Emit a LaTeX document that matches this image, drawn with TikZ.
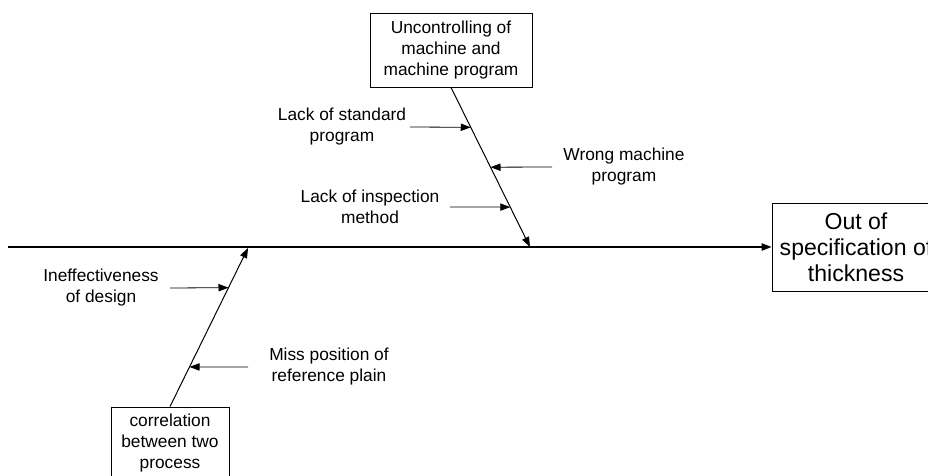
\documentclass[tikz,border=0pt]{standalone}
\usepackage{fontspec}
\setmainfont{Liberation Sans}
\usepackage{tikz}
\usetikzlibrary{arrows.meta,calc,positioning}

\begin{document}
\begin{tikzpicture}[x=0.75pt, y=-0.75pt, >={Triangle[length=7.5pt,width=5.5pt]}]
   \useasboundingbox (0,0) rectangle (928,475);
   \begin{scope}
   \clip (0,0) rectangle (928,475);
   % boxes
   \begin{scope}[every node/.style={draw, line width=0.6pt, align=center}]
    \node[minimum width=121.5pt, minimum height=55.5pt, font=\fontsize{13}{15.75}\selectfont] (cause1) at (451,50) {Uncontrolling of\\machine and\\machine program};
    \node[minimum width=88.5pt, minimum height=54pt, font=\fontsize{13}{15.75}\selectfont] (cause2) at (170,443) {correlation\\between two\\process};
    \node[minimum width=126pt, minimum height=66pt, font=\fontsize{17.3}{19.5}\selectfont] (effect) at (856,247) {Out of\\specification of\\thickness};
   \end{scope}
   \end{scope}
   \coordinate (tail) at (8,247);
   \coordinate (j1) at (530,247);
   \coordinate (j2) at (248,248);
   % spine and bones
   \draw[line width=1.1pt, ->] (tail) -- (effect.west);
   \draw[line width=0.75pt, ->] (cause1.south) -- (j1);
   \draw[line width=0.75pt, ->] (cause2.north) -- (j2);
   % sub causes
   \begin{scope}[every node/.style={align=center, inner sep=0pt, font=\fontsize{13}{15.75}\selectfont}]
    \node (s1) at (342,127) {Lack of standard\\program};
    \node (s2) at (624,167) {Wrong machine\\program};
    \node (s3) at (370,207) {Lack of inspection\\method};
    \node (s4) at (101,288) {Ineffectiveness\\of design};
    \node (s5) at (329,367) {Miss position of\\reference plain};
   \end{scope}
   \coordinate (a1) at (410,127);
   \coordinate (a2) at (552,167);
   \coordinate (a3) at (450,207);
   \coordinate (a4) at (170,288);
   \coordinate (a5) at (248,367);
   \begin{scope}[line width=0.6pt, ->]
    \draw (a1) -- ($(cause1.south)!0.25!(j1)$);
    \draw (a2) -- ($(cause1.south)!0.5!(j1)$);
    \draw (a3) -- ($(cause1.south)!0.75!(j1)$);
    \draw (a4) -- ($(cause2.north)!0.75!(j2)$);
    \draw (a5) -- ($(cause2.north)!0.25!(j2)$);
   \end{scope}
\end{tikzpicture}
\end{document}
